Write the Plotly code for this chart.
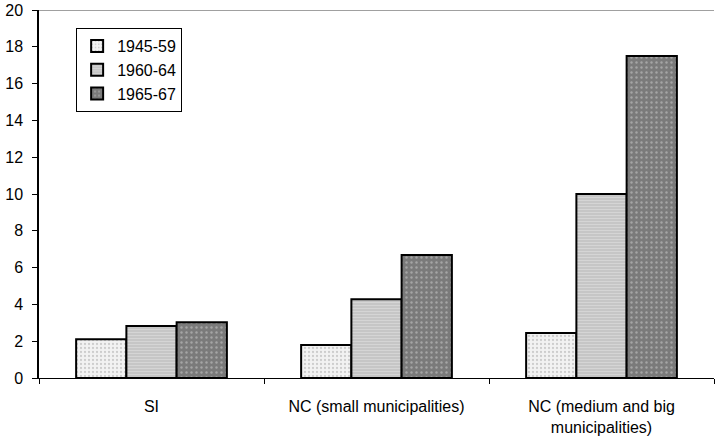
import plotly.graph_objects as go

categories = ["SI", "NC (small municipalities)", "NC (medium and big<br>municipalities)"]
series_names = ["1945-59", "1960-64", "1965-67"]
v_1945_59 = [2.1, 1.8, 2.45]
v_1960_64 = [2.83, 4.28, 10.0]
v_1965_67 = [3.03, 6.68, 17.5]
y_ticks = [0, 2, 4, 6, 8, 10, 12, 14, 16, 18, 20]

styles = [
    dict(bg="#f2f2f2", fg="#a8a8a8", shape=".", size=4, solidity=0.25),
    dict(bg="#c6c6c6", fg="#e4e4e4", shape="-", size=3, solidity=0.35),
    dict(bg="#7a7a7a", fg="#cfcfcf", shape=".", size=5, solidity=0.18),
]

fig = go.Figure()
for name, vals, st in zip(series_names, [v_1945_59, v_1960_64, v_1965_67], styles):
    fig.add_trace(go.Bar(
        x=categories, y=vals, name=name,
        marker=dict(
            color=st["bg"],
            line=dict(color="black", width=2),
            pattern=dict(shape=st["shape"], fgcolor=st["fg"], bgcolor=st["bg"],
                         size=st["size"], solidity=st["solidity"], fillmode="overlay"),
        ),
    ))

fig.add_shape(type="line", xref="paper", yref="y", x0=0, x1=1, y0=20, y1=20,
              line=dict(color="#808080", width=1.5))

fig.update_layout(
    width=715, height=440,
    margin=dict(l=39, r=1, t=10, b=62),
    plot_bgcolor="white", paper_bgcolor="white",
    font=dict(family="Liberation Sans, Arial, sans-serif", size=16, color="black"),
    barmode="group", bargap=0.33, bargroupgap=0,
    showlegend=True,
    legend=dict(x=0.055, y=0.951, xanchor="left", yanchor="top",
                bordercolor="black", borderwidth=1, bgcolor="white",
                font=dict(size=16), tracegroupgap=0, itemwidth=30),
    xaxis=dict(showline=True, linecolor="black", linewidth=1, ticks="outside",
               tickson="boundaries", ticklen=5, tickcolor="black", showgrid=False,
               ticklabelstandoff=14),
    yaxis=dict(range=[0, 20], tickvals=y_ticks, showline=True, linecolor="black",
               linewidth=1.5, ticks="outside", ticklen=5, tickcolor="black",
               showgrid=False, zeroline=False, ticklabelstandoff=6),
)

fig.write_html("out.html")
